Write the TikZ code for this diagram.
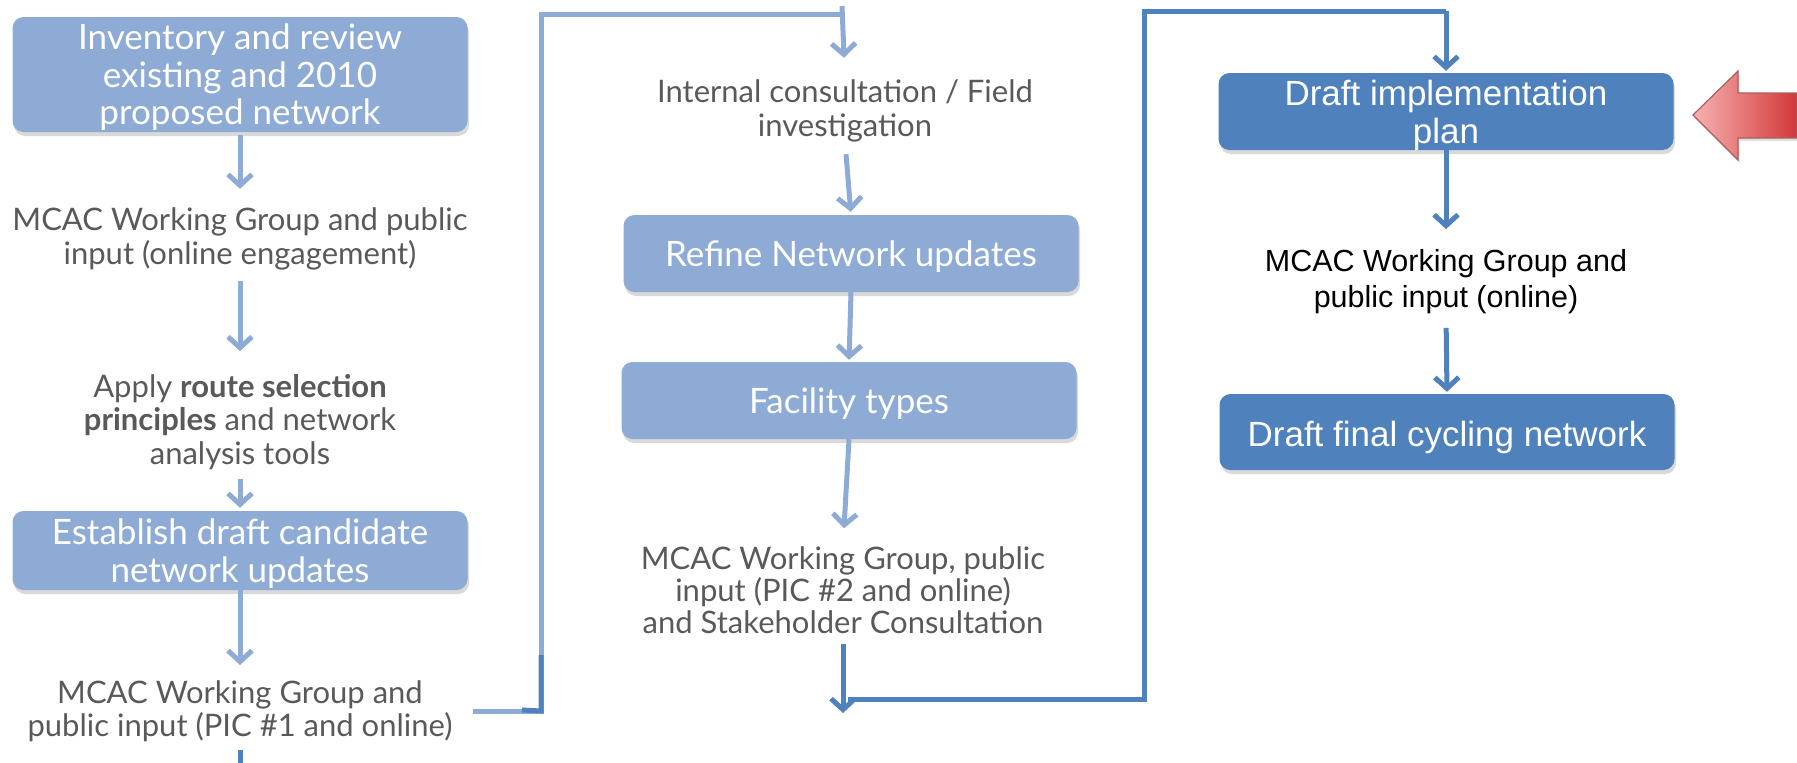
\documentclass[tikz,border=0pt]{standalone}
\usepackage{fontspec}
\setmainfont{Lato}
\newfontfamily\arialfont{Liberation Sans}
\usetikzlibrary{arrows.meta,shadows,calc}
\definecolor{lblue}{RGB}{141,171,212}
\definecolor{dblue}{RGB}{79,129,189}
\definecolor{tgray}{RGB}{89,89,89}
\definecolor{pinkl}{RGB}{247,178,178}
\definecolor{redd}{RGB}{210,55,55}
\definecolor{redline}{RGB}{170,95,95}
\tikzset{
  boxbase/.style={rounded corners=11pt, text=white, align=center, minimum width=455pt, inner sep=0pt,
     text depth=0pt, drop shadow={opacity=0.3, shadow xshift=1.5pt, shadow yshift=-4pt}},
  lbox/.style={boxbase, fill=lblue, font=\fontsize{35}{37.5}\selectfont},
  dbox/.style={boxbase, fill=dblue, font=\arialfont\fontsize{35}{38}\selectfont},
  ptext/.style={text=tgray, align=center, inner sep=0pt, font=\fontsize{31}{33.5}\selectfont},
  btext/.style={text=black, align=center, inner sep=0pt, font=\arialfont\fontsize{30.5}{36}\selectfont},
  larrow/.style={draw=lblue, line width=5pt, -{Straight Barb[length=11pt,width=24pt]}},
  darrow/.style={draw=dblue, line width=5pt, -{Straight Barb[length=11pt,width=24pt]}},
  lline/.style={draw=lblue, line width=5pt},
  dline/.style={draw=dblue, line width=5pt},
}
\begin{document}
\begin{tikzpicture}[x=1pt,y=-1pt]
\useasboundingbox (0,0) rectangle (1797,763);
% left column
\node[lbox, minimum height=115pt] (b1) at (240,74.5) {Inventory and review\\existing and 2010\\proposed network};
\node[ptext] (t1) at (240,239) {MCAC Working Group and public\\input (online engagement)};
\node[ptext] (t2) at (240,422) {Apply \textbf{route selection}\\\textbf{principles} and network\\analysis tools};
\node[lbox, minimum height=79pt] (b2) at (240,550.5) {Establish draft candidate\\network updates};
\node[ptext] (t3) at (240,711) {MCAC Working Group and\\public input (PIC \#1 and online)};
% middle column
\node[ptext] (t4) at (845,111) {Internal consultation / Field\\investigation};
\node[lbox, minimum height=77pt] (b3) at (851,253.5) {Refine Network updates};
\node[lbox, minimum height=77pt] (b4) at (849,400.5) {Facility types};
\node[ptext, font=\fontsize{31}{32}\selectfont] (t5) at (843,590) {MCAC Working Group, public\\input (PIC \#2 and online)\\and Stakeholder Consultation};
% right column
\node[dbox, minimum height=77pt] (b5) at (1446,111.5) {Draft implementation\\plan};
\node[btext] (t6) at (1446,281.5) {MCAC Working Group and\\public input (online)};
\node[dbox, minimum height=76pt, text height=28pt] (b6) at (1447,432) {Draft final cycling network};
% left arrows
\draw[larrow, shorten <=3pt, shorten >=19pt] (b1.south) -- (t1.north);
\draw[larrow, shorten <=11pt, shorten >=23pt] (t1.south) -- (t2.north);
\draw[larrow, shorten <=9pt, shorten >=3pt] (t2.south) -- (b2.north);
\draw[larrow, shorten >=15pt] (b2.south) -- (t3.north);
\coordinate (bot) at (240,763);
\draw[dline, shorten <=8pt] (t3.south) -- (bot);
% loop left -> middle
\coordinate (p1) at (541,711);
\coordinate (p2) at (541,14);
\coordinate (p3) at (842,14);
\coordinate (p3a) at (842,6);
\coordinate (p1a) at (541,655);
\coordinate (p1b) at (522,710);
\draw[lline, shorten <=20pt] (t3.east) -- (p1) -- (p2) -- (p3);
\draw[dline] (p1a) -- (p1) -- (p1b);
\draw[larrow, shorten >=22pt] (p3a) -- (t4.north);
% middle arrows
\draw[larrow, shorten <=12pt, shorten >=3pt] (t4.south) -- (b3.north);
\draw[larrow, shorten >=2pt] (b3.south) -- (b4.north);
\draw[larrow, shorten >=18pt] (b4.south) -- (t5.north);
% loop middle -> right
\coordinate (q0) at (843,713);
\coordinate (q1) at (848,699);
\coordinate (q2) at (1144,699);
\coordinate (q3) at (1144,11);
\coordinate (q4) at (1446,11);
\draw[darrow, shorten <=10pt] (t5.south) -- (q0);
\draw[dline] (q1) -- (q2) -- (q3) -- (q4);
\draw[darrow, shorten >=2pt] (q4) -- (b5.north);
% right arrows
\draw[darrow, shorten >=20pt] (b5.south) -- (t6.north);
\draw[darrow, shorten <=14pt, shorten >=2pt] (t6.south) -- (b6.north);
% red arrow
\path[left color=pinkl, right color=redd, draw=redline, line width=1.2pt,
      drop shadow={opacity=0.25, shadow xshift=1.5pt, shadow yshift=-3pt}]
  (1693,115) -- (1738,71) -- (1738,93) -- (1797,93) -- (1797,138) -- (1738,138) -- (1738,160) -- cycle;
\end{tikzpicture}
\end{document}
